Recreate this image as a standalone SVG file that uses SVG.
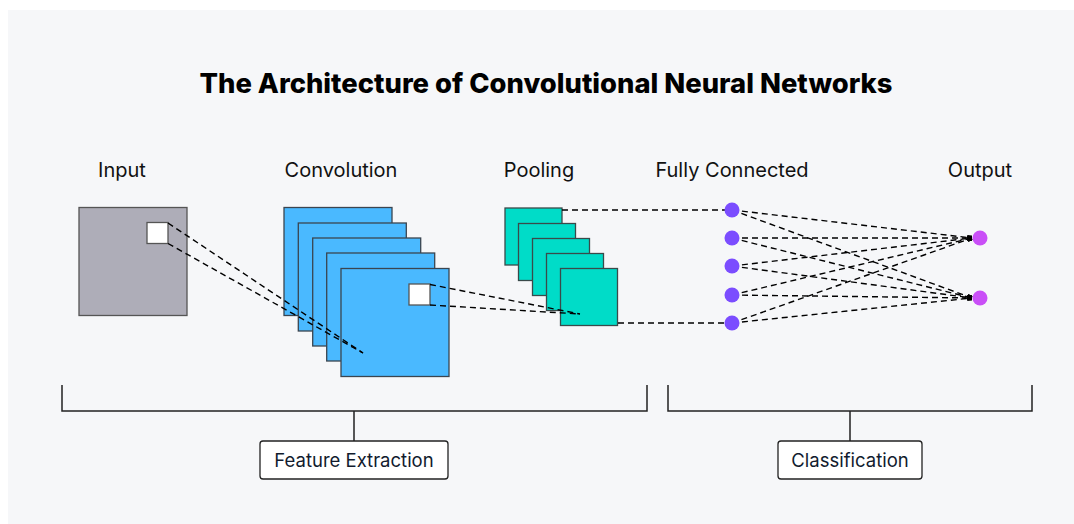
<svg xmlns="http://www.w3.org/2000/svg" width="1074" height="524" viewBox="0 0 1074 524">
<style>
.title{font-family:Inter,"Liberation Sans",sans-serif;font-weight:800;font-size:27px;fill:#000}
.lbl{font-family:Inter,"Liberation Sans",sans-serif;font-size:20px;fill:#111}
.box{font-family:Inter,"Liberation Sans",sans-serif;font-size:18.5px;fill:#111b2e}
.inp{fill:#aeadb8;stroke:#555;stroke-width:1.3}
.conv{fill:#4ab9ff;stroke:#3a4550;stroke-width:1.3}
.pool{fill:#00dcc8;stroke:#3a4a4a;stroke-width:1.3}
.win{fill:#fff;stroke:#555;stroke-width:1.3}
.dash{fill:none;stroke:#000;stroke-width:1.4;stroke-dasharray:6 4}
.fc{fill:#7b4dff}
.out{fill:#c94ff7}
.br{fill:none;stroke:#222;stroke-width:1.5}
.lb{fill:#fff;stroke:#222;stroke-width:1.3}
</style>
<defs>
<marker id="sq" markerWidth="5" markerHeight="5" refX="5" refY="2.5" orient="auto" markerUnits="userSpaceOnUse">
<rect x="0" y="0" width="5" height="5" fill="#000"/>
</marker>
</defs>
<rect x="0" y="0" width="1074" height="524" fill="#fff"/>
<rect x="8" y="10" width="1066" height="514" fill="#f6f7f9"/>
<text class="title" x="546" y="93" text-anchor="middle" textLength="693" lengthAdjust="spacingAndGlyphs">The Architecture of Convolutional Neural Networks</text>

<g id="input">
<text class="lbl" x="122" y="177" text-anchor="middle">Input</text>
<rect class="inp" x="79" y="207.5" width="108" height="108"/>
<rect class="win" x="147" y="222.5" width="21" height="21"/>
</g>

<g id="convolution">
<text class="lbl" x="341" y="177" text-anchor="middle">Convolution</text>
<rect class="conv" x="284" y="207.5" width="108" height="108"/>
<rect class="conv" x="298.3" y="223" width="108" height="108"/>
<rect class="conv" x="312.7" y="238" width="108" height="108"/>
<rect class="conv" x="326.7" y="253" width="108" height="108"/>
<rect class="conv" x="341" y="268.5" width="108" height="108"/>
<rect class="win" x="409" y="284" width="21" height="21"/>
</g>

<g id="pooling">
<text class="lbl" x="539" y="177" text-anchor="middle">Pooling</text>
<rect class="pool" x="505" y="208" width="57" height="57"/>
<rect class="pool" x="518.5" y="223.5" width="57" height="57"/>
<rect class="pool" x="532.5" y="238.5" width="57" height="57"/>
<rect class="pool" x="546.5" y="253.5" width="57" height="57"/>
<rect class="pool" x="560.5" y="268.5" width="57" height="57"/>
</g>

<g id="connectors">
<line class="dash" x1="168" y1="223" x2="363" y2="353"/>
<line class="dash" x1="168" y1="243.5" x2="363" y2="353"/>
<line class="dash" x1="430" y1="284.5" x2="580" y2="314"/>
<line class="dash" x1="430" y1="305" x2="580" y2="314"/>
<line class="dash" x1="562" y1="210" x2="732" y2="210"/>
<line class="dash" x1="618" y1="323" x2="732" y2="323"/>
<g marker-end="url(#sq)">
<line class="dash" x1="732" y1="210" x2="972" y2="238"/>
<line class="dash" x1="732" y1="238" x2="972" y2="238"/>
<line class="dash" x1="732" y1="266" x2="972" y2="238"/>
<line class="dash" x1="732" y1="295" x2="972" y2="238"/>
<line class="dash" x1="732" y1="323" x2="972" y2="238"/>
<line class="dash" x1="732" y1="210" x2="972" y2="298"/>
<line class="dash" x1="732" y1="238" x2="972" y2="298"/>
<line class="dash" x1="732" y1="266" x2="972" y2="298"/>
<line class="dash" x1="732" y1="295" x2="972" y2="298"/>
<line class="dash" x1="732" y1="323" x2="972" y2="298"/>
</g>
</g>

<g id="fully-connected">
<text class="lbl" x="732" y="177" text-anchor="middle">Fully Connected</text>
<circle class="fc" cx="732" cy="210" r="7.5"/>
<circle class="fc" cx="732" cy="238" r="7.5"/>
<circle class="fc" cx="732" cy="266" r="7.5"/>
<circle class="fc" cx="732" cy="295" r="7.5"/>
<circle class="fc" cx="732" cy="323" r="7.5"/>
</g>

<g id="output">
<text class="lbl" x="980" y="177" text-anchor="middle">Output</text>
<circle class="out" cx="980" cy="238" r="7.5"/>
<circle class="out" cx="980" cy="298" r="7.5"/>
</g>

<g id="feature-extraction">
<path class="br" d="M62 385 V411 H647 V385 M354 411 V441"/>
<rect class="lb" x="260" y="441" width="188" height="38" rx="3"/>
<text class="box" x="354" y="467" text-anchor="middle">Feature Extraction</text>
</g>

<g id="classification">
<path class="br" d="M668 385 V411 H1032 V385 M850 411 V441"/>
<rect class="lb" x="778" y="441" width="144" height="38" rx="3"/>
<text class="box" x="850" y="467" text-anchor="middle">Classification</text>
</g>
</svg>
